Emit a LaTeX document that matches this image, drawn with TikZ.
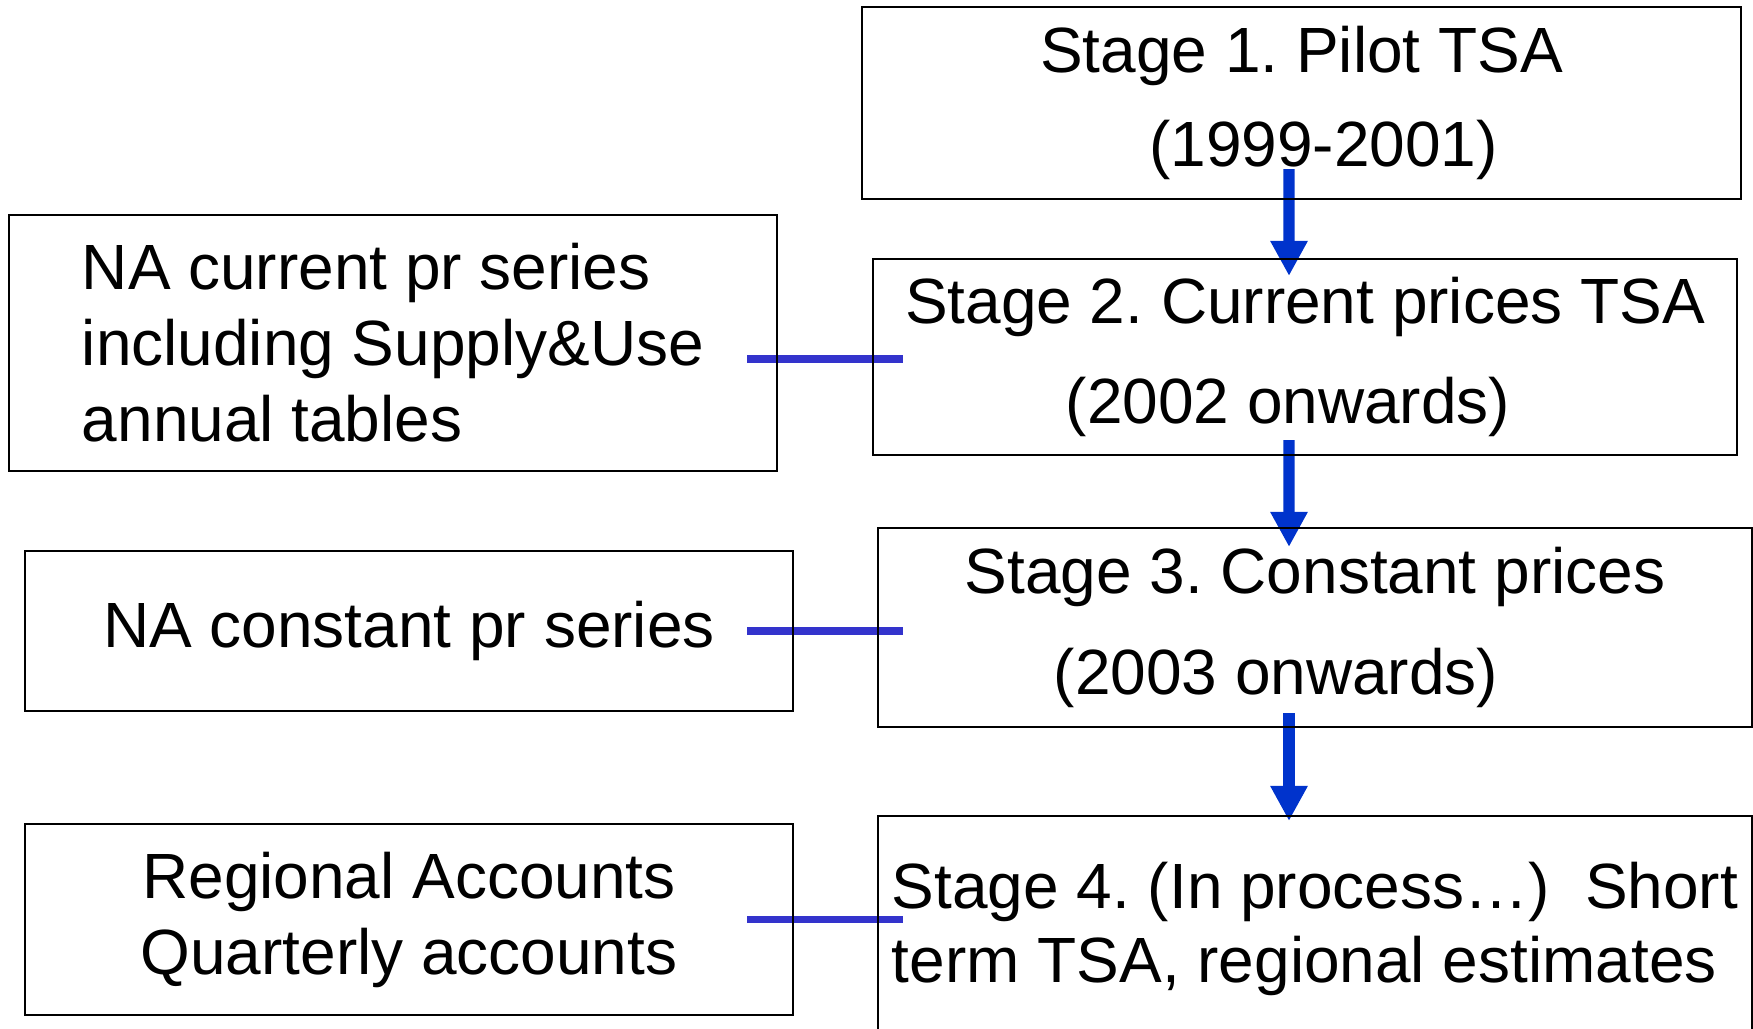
\documentclass[tikz,border=0pt]{standalone}
\usepackage{fontspec}
\setmainfont{Liberation Sans}
\usetikzlibrary{arrows.meta,backgrounds}
\definecolor{flowblue}{RGB}{0,51,204}
\definecolor{linkblue}{RGB}{51,51,204}
\tikzset{
	stagebox/.style={draw, line width=0.6pt, align=center, inner sep=0pt, font=\fontsize{18.2}{28.5}\selectfont},
	srcbox/.style={draw, line width=0.6pt, align=left, inner sep=0pt, minimum width=7.68cm, font=\fontsize{18.2}{21.6}\selectfont},
	flow/.style={draw=flowblue, line width=3.2pt, -{Triangle[width=3.5mm,length=3.5mm]}},
	link/.style={draw=linkblue, line width=2.2pt}
}

\begin{document}
\frenchspacing
\begin{tikzpicture}
			%%%%% START %%%%%
			\useasboundingbox (0, 0) rectangle (17.53, -10.28);
			
			% stages, right column
			\node[stagebox, minimum width=8.79cm, minimum height=1.92cm, font=\fontsize{18.2}{26.5}\selectfont] (s1) at (13.015, -1.03) {Stage 1. Pilot TSA\\\hspace*{4.4mm}(1999-2001)};
			\node[stagebox, minimum width=8.64cm, minimum height=1.96cm] (s2) at (13.05, -3.57) {Stage 2. Current prices TSA\\(2002 onwards)\hspace*{3.4mm}};
			\node[stagebox, minimum width=8.74cm, minimum height=1.99cm] (s3) at (13.15, -6.275) {Stage 3. Constant prices\\(2003 onwards)\hspace*{7.8mm}};
			\node[stagebox, align=left, minimum width=8.74cm, minimum height=2.26cm, font=\fontsize{18.2}{21.3}\selectfont] (s4) at (13.15, -9.29) {Stage 4. (In process…)~ Short\\term TSA, regional estimates};
			
			% sources, left column
			\node[srcbox, minimum height=2.56cm] (l1) at (3.93, -3.43) {NA current pr series\\including Supply\&Use\\annual tables};
			\node[srcbox, align=center, minimum height=1.60cm] (l2) at (4.09, -6.31) {NA constant pr series};
			\node[srcbox, align=center, minimum height=1.91cm] (l3) at (4.09, -9.195) {Regional Accounts\\Quarterly accounts};
			
			\begin{scope}[on background layer]
			\draw[flow] ([xshift=-1.25mm, yshift=3.1mm]s1.south) -- ([xshift=-1.6mm, yshift=-1.8mm]s2.north);
			\draw[flow] ([xshift=-1.6mm, yshift=1.6mm]s2.south) -- ([xshift=-2.6mm, yshift=-2.0mm]s3.north);
			\draw[flow] ([xshift=-2.6mm, yshift=1.5mm]s3.south) -- ([xshift=-2.6mm, yshift=-0.6mm]s4.north);
			
			\draw[link] ([xshift=-3.1mm, yshift=-1.6mm]l1.east) -- ([xshift=3.1mm, yshift=-0.2mm]s2.west);
			\draw[link] ([xshift=-4.7mm]l2.east) -- ([xshift=2.6mm]l2.east -| s3.west);
			\draw[link] ([xshift=-4.7mm]l3.east) -- ([xshift=2.6mm]l3.east -| s4.west);
			\end{scope}
			
			%%%%% END %%%%%
\end{tikzpicture}
\end{document}
